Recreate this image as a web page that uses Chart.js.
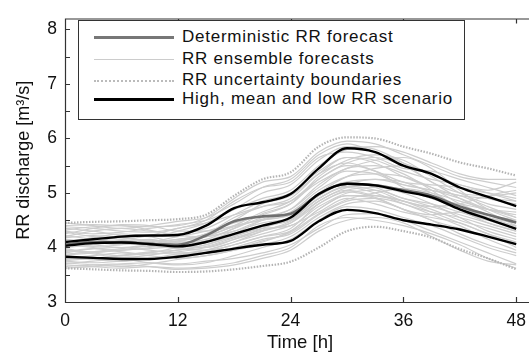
<!DOCTYPE html>
<html>
<head>
<meta charset="utf-8">
<script src="https://cdn.jsdelivr.net/npm/chart.js@4"></script>
<style>
  html, body { margin: 0; padding: 0; background: #fff; overflow: hidden; }
  #wrap { position: relative; width: 560px; height: 357px; }
  #legend {
    position: absolute; left: 78px; top: 20px; width: 387px; height: 100px;
    border: 1px solid #333; background: #fff; box-sizing: border-box;
    font-family: "Liberation Sans", Arial, sans-serif; font-size: 17px; letter-spacing: 0.75px; color: #111;
  }
  .row { position: absolute; left: 0; height: 20px; line-height: 20px; }
  .row span.l { position: absolute; left: 15px; top: 10px; width: 80px; }
  .row span.t { position: absolute; left: 103px; top: 0; white-space: nowrap; }
</style>
</head>
<body>
<div id="wrap">
  <canvas id="chart"></canvas>
  <div id="legend">
    <div class="row" style="top:6px"><span class="l" style="border-top:3px solid #777;top:9px"></span><span class="t">Deterministic RR forecast</span></div>
    <div class="row" style="top:28px"><span class="l" style="border-top:1px solid #ccc"></span><span class="t">RR ensemble forecasts</span></div>
    <div class="row" style="top:49px"><span class="l" style="border-top:2px dotted #bbb"></span><span class="t">RR uncertainty boundaries</span></div>
    <div class="row" style="top:68px"><span class="l" style="border-top:3px solid #000;top:9px"></span><span class="t">High, mean and low RR scenario</span></div>
  </div>
</div>
<script>
// time axis (hours)
const hours = [0, 3, 6, 9, 12, 15, 18, 21, 24, 27, 30, 33, 36, 39, 42, 45, 48];
const xTicks = [0, 12, 24, 36, 48];
const yTicks = [3, 4, 5, 6, 7, 8];

// scenarios
const highRR = [4.10, 4.15, 4.20, 4.22, 4.23, 4.40, 4.72, 4.83, 4.98, 5.45, 5.82, 5.75, 5.50, 5.35, 5.10, 4.93, 4.76];
const meanRR = [4.03, 4.08, 4.09, 4.06, 4.02, 4.10, 4.25, 4.40, 4.55, 4.98, 5.17, 5.14, 5.03, 4.92, 4.70, 4.52, 4.34];
const lowRR  = [3.83, 3.81, 3.79, 3.79, 3.83, 3.90, 3.98, 4.05, 4.12, 4.48, 4.69, 4.63, 4.50, 4.42, 4.33, 4.20, 4.06];
const detRR  = [4.05, 4.10, 4.10, 4.07, 4.05, 4.22, 4.48, 4.57, 4.62, 4.98, 5.17, 5.14, 5.05, 4.95, 4.75, 4.60, 4.46];

// uncertainty boundaries
const upperBound = [4.45, 4.47, 4.48, 4.50, 4.52, 4.60, 4.95, 5.25, 5.38, 5.85, 6.02, 6.00, 5.85, 5.72, 5.56, 5.45, 5.32];
const lowerBound = [3.62, 3.60, 3.58, 3.57, 3.55, 3.56, 3.60, 3.66, 3.74, 4.00, 4.30, 4.38, 4.30, 4.18, 3.97, 3.80, 3.60];

// ensemble members
const ens01 = [4.40, 4.42, 4.40, 4.38, 4.40, 4.55, 4.90, 5.20, 5.30, 5.75, 5.95, 5.90, 5.70, 5.50, 5.30, 5.20, 5.10];
const ens02 = [4.30, 4.25, 4.28, 4.35, 4.42, 4.50, 4.70, 4.90, 5.05, 5.50, 5.80, 5.85, 5.75, 5.55, 5.35, 5.25, 5.25];
const ens03 = [4.20, 4.30, 4.35, 4.30, 4.25, 4.35, 4.60, 4.85, 5.00, 5.40, 5.65, 5.55, 5.30, 5.10, 4.95, 4.90, 4.85];
const ens04 = [4.15, 4.10, 4.05, 4.10, 4.20, 4.30, 4.45, 4.60, 4.80, 5.30, 5.60, 5.70, 5.60, 5.30, 5.00, 4.80, 4.70];
const ens05 = [4.10, 4.18, 4.25, 4.20, 4.10, 4.15, 4.35, 4.55, 4.70, 5.10, 5.40, 5.35, 5.15, 5.05, 4.95, 4.75, 4.55];
const ens06 = [4.05, 4.00, 3.95, 4.00, 4.10, 4.25, 4.40, 4.50, 4.60, 5.00, 5.30, 5.45, 5.50, 5.35, 5.10, 4.90, 4.80];
const ens07 = [4.00, 4.05, 4.12, 4.15, 4.05, 4.00, 4.15, 4.35, 4.55, 4.95, 5.20, 5.10, 4.90, 4.80, 4.65, 4.50, 4.40];
const ens08 = [3.95, 3.92, 3.95, 4.05, 4.15, 4.20, 4.30, 4.45, 4.55, 4.90, 5.15, 5.25, 5.20, 5.00, 4.75, 4.55, 4.45];
const ens09 = [3.90, 3.98, 4.00, 3.95, 3.90, 3.95, 4.10, 4.30, 4.45, 4.85, 5.05, 4.95, 4.85, 4.70, 4.50, 4.35, 4.20];
const ens10 = [3.85, 3.80, 3.85, 3.92, 3.95, 4.05, 4.20, 4.35, 4.40, 4.75, 5.00, 5.05, 4.90, 4.75, 4.60, 4.45, 4.30];
const ens11 = [3.80, 3.85, 3.90, 3.85, 3.80, 3.85, 3.95, 4.10, 4.30, 4.70, 4.95, 4.90, 4.70, 4.50, 4.35, 4.20, 4.05];
const ens12 = [3.75, 3.72, 3.75, 3.80, 3.85, 3.90, 4.00, 4.15, 4.25, 4.60, 4.85, 4.90, 4.80, 4.60, 4.40, 4.15, 3.95];
const ens13 = [3.70, 3.75, 3.78, 3.72, 3.68, 3.72, 3.85, 4.00, 4.15, 4.50, 4.75, 4.70, 4.55, 4.40, 4.20, 4.00, 3.85];
const ens14 = [3.65, 3.68, 3.70, 3.72, 3.70, 3.75, 3.80, 3.90, 4.05, 4.35, 4.60, 4.62, 4.50, 4.30, 4.10, 3.90, 3.70];
const ens15 = [4.35, 4.30, 4.22, 4.20, 4.30, 4.45, 4.70, 5.00, 5.15, 5.60, 5.85, 5.80, 5.55, 5.20, 5.00, 4.95, 5.00];
const ens16 = [4.25, 4.35, 4.42, 4.40, 4.30, 4.30, 4.50, 4.80, 4.95, 5.35, 5.55, 5.40, 5.20, 5.15, 5.10, 5.00, 4.90];
const ens17 = [4.12, 4.05, 4.00, 4.05, 4.12, 4.20, 4.40, 4.65, 4.85, 5.25, 5.50, 5.40, 5.10, 4.90, 4.80, 4.70, 4.65];
const ens18 = [4.02, 4.10, 4.18, 4.10, 4.00, 4.05, 4.25, 4.50, 4.65, 5.05, 5.30, 5.35, 5.30, 5.10, 4.80, 4.60, 4.50];
const ens19 = [3.98, 3.90, 3.85, 3.90, 4.00, 4.10, 4.25, 4.40, 4.50, 4.90, 5.10, 5.00, 4.80, 4.65, 4.55, 4.40, 4.25];
const ens20 = [3.88, 3.92, 3.98, 4.02, 3.98, 3.95, 4.05, 4.20, 4.35, 4.80, 5.05, 5.10, 5.00, 4.80, 4.55, 4.30, 4.15];
const ens21 = [3.78, 3.82, 3.80, 3.78, 3.85, 3.95, 4.10, 4.25, 4.40, 4.65, 4.90, 4.80, 4.65, 4.55, 4.45, 4.25, 4.10];
const ens22 = [3.72, 3.68, 3.65, 3.70, 3.78, 3.85, 3.95, 4.05, 4.20, 4.55, 4.80, 4.85, 4.70, 4.50, 4.25, 4.05, 3.90];
const ens23 = [4.45, 4.40, 4.35, 4.40, 4.48, 4.55, 4.80, 5.10, 5.25, 5.70, 5.90, 5.75, 5.55, 5.35, 5.15, 5.05, 5.20];
const ens24 = [3.68, 3.65, 3.62, 3.65, 3.62, 3.65, 3.72, 3.85, 4.00, 4.40, 4.55, 4.50, 4.40, 4.25, 4.05, 3.80, 3.62];
const ens25 = [4.18, 4.22, 4.18, 4.12, 4.15, 4.25, 4.55, 4.75, 4.90, 5.35, 5.65, 5.60, 5.40, 5.25, 5.15, 5.00, 4.85];
const ens26 = [4.08, 4.02, 4.05, 4.12, 4.08, 4.12, 4.30, 4.50, 4.60, 4.95, 5.20, 5.25, 5.15, 5.05, 4.90, 4.70, 4.60];
const ens27 = [3.92, 3.98, 3.92, 3.88, 3.92, 4.00, 4.15, 4.30, 4.48, 4.85, 5.10, 5.15, 5.05, 4.90, 4.70, 4.50, 4.35];
const ens28 = [3.82, 3.78, 3.75, 3.80, 3.88, 3.92, 4.05, 4.20, 4.30, 4.70, 4.95, 4.95, 4.85, 4.65, 4.45, 4.25, 4.00];
const ens29 = [4.38, 4.35, 4.30, 4.28, 4.35, 4.50, 4.85, 5.10, 5.20, 5.65, 5.75, 5.65, 5.45, 5.40, 5.25, 5.10, 4.95];
const ens30 = [3.62, 3.65, 3.68, 3.65, 3.60, 3.62, 3.68, 3.80, 3.95, 4.30, 4.50, 4.55, 4.45, 4.20, 3.95, 3.75, 3.68];
const ens31 = [4.28, 4.20, 4.15, 4.22, 4.35, 4.45, 4.60, 4.75, 4.85, 5.20, 5.45, 5.60, 5.65, 5.45, 5.05, 4.70, 4.50];
const ens32 = [3.86, 3.90, 3.95, 3.98, 4.02, 4.10, 4.22, 4.38, 4.52, 4.90, 5.12, 5.05, 4.85, 4.75, 4.80, 4.95, 5.05];
const ens33 = [4.22, 4.15, 4.08, 4.05, 4.12, 4.22, 4.38, 4.52, 4.70, 5.15, 5.45, 5.50, 5.35, 5.05, 4.70, 4.45, 4.30];
const ens34 = [3.76, 3.80, 3.86, 3.90, 3.88, 3.90, 3.98, 4.12, 4.28, 4.62, 4.88, 5.00, 5.08, 5.00, 4.85, 4.70, 4.55];
const ens35 = [4.32, 4.38, 4.40, 4.32, 4.22, 4.20, 4.35, 4.62, 4.80, 5.25, 5.55, 5.65, 5.50, 5.20, 4.90, 4.65, 4.40];
const ens36 = [3.95, 3.88, 3.82, 3.86, 3.95, 4.02, 4.18, 4.32, 4.45, 4.80, 5.02, 4.92, 4.70, 4.60, 4.65, 4.55, 4.38];

const ensembles = [ens01, ens02, ens03, ens04, ens05, ens06, ens07, ens08, ens09, ens10,
                   ens11, ens12, ens13, ens14, ens15, ens16, ens17, ens18, ens19, ens20,
                   ens21, ens22, ens23, ens24, ens25, ens26, ens27, ens28, ens29, ens30,
                   ens31, ens32, ens33, ens34, ens35, ens36];

const FONT = '"Liberation Sans", Arial, sans-serif';

function line(values, color, width, order, dash) {
    return {
        data: values.map((v, i) => ({ x: hours[i], y: v })),
        borderColor: color,
        borderWidth: width,
        borderDash: dash || [],
        pointRadius: 0,
        fill: false,
        cubicInterpolationMode: 'monotone',
        order: order
    };
}

const datasets = [];
ensembles.forEach(e => datasets.push(line(e, '#cdcdcd', 1.2, 4)));
datasets.push(line(upperBound, '#b4b4b4', 2.2, 3, [1.5, 1.5]));
datasets.push(line(lowerBound, '#b4b4b4', 2.2, 3, [1.5, 1.5]));
datasets.push(line(detRR, '#707070', 2.6, 2));
datasets.push(line(highRR, '#000', 2.4, 1));
datasets.push(line(meanRR, '#000', 2.4, 1));
datasets.push(line(lowRR, '#000', 2.4, 1));

// frame with inward ticks, MATLAB style
const framePlugin = {
    id: 'frame',
    afterDatasetsDraw(chart) {
        const { ctx, chartArea: a, scales: { x, y } } = chart;
        ctx.save();
        ctx.strokeStyle = '#333';
        ctx.lineWidth = 1.2;
        ctx.beginPath();
        ctx.moveTo(a.right, a.top + 0.5);
        ctx.lineTo(a.left + 0.5, a.top + 0.5);
        ctx.lineTo(a.left + 0.5, a.bottom + 0.5);
        ctx.lineTo(a.right, a.bottom + 0.5);
        // x ticks, bottom and top
        xTicks.forEach(t => {
            const px = Math.round(x.getPixelForValue(t)) + 0.5;
            ctx.moveTo(px, a.bottom);
            ctx.lineTo(px, a.bottom - 5);
            ctx.moveTo(px, a.top);
            ctx.lineTo(px, a.top + 5);
        });
        // y ticks every half unit
        for (let v = 3; v <= 8; v += 0.5) {
            const py = Math.round(y.getPixelForValue(v)) + 0.5;
            ctx.moveTo(a.left, py);
            ctx.lineTo(a.left + 5, py);
        }
        ctx.stroke();
        ctx.restore();
    }
};

new Chart(document.getElementById('chart'), {
    type: 'line',
    data: { datasets: datasets },
    options: {
        responsive: true,
        maintainAspectRatio: false,
        animation: false,
        layout: { padding: { left: 0, top: 7, right: 25, bottom: 0 } },
        plugins: { legend: { display: false }, tooltip: { enabled: false } },
        scales: {
            x: {
                type: 'linear', min: 0, max: 50,
                grid: { display: false, drawTicks: false },
                border: { display: false },
                afterBuildTicks: s => { s.ticks = xTicks.map(v => ({ value: v })); },
                afterFit: s => { s.height = 55; },
                ticks: { padding: 9, color: '#111', font: { family: FONT, size: 17.5 } },
                title: { display: true, text: 'Time [h]', color: '#111', padding: { top: 2, bottom: 3 }, font: { family: FONT, size: 18.5 } }
            },
            y: {
                min: 3, max: 8.2,
                grid: { display: false, drawTicks: false },
                border: { display: false },
                afterBuildTicks: s => { s.ticks = yTicks.map(v => ({ value: v })); },
                afterFit: s => { s.width = 65; },
                ticks: { padding: 8, color: '#111', font: { family: FONT, size: 17.5 } },
                title: { display: true, text: 'RR discharge [m³/s]', color: '#111', padding: { top: 13, bottom: 0 }, font: { family: FONT, size: 18 } }
            }
        }
    },
    plugins: [framePlugin]
});
</script>
</body>
</html>
